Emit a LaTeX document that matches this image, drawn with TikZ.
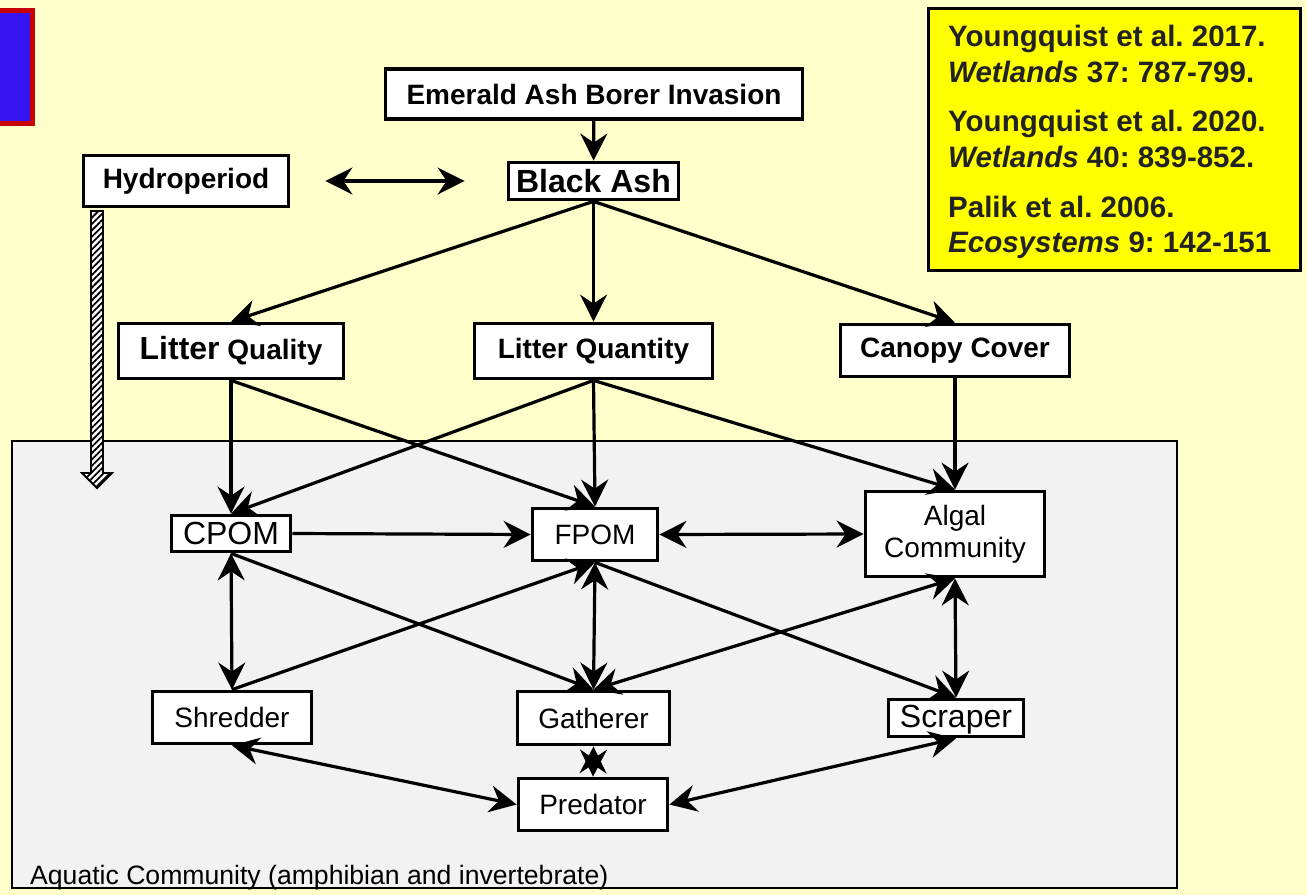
\documentclass[tikz,border=0pt]{standalone}
\usepackage{fontspec}
\setmainfont{Liberation Sans}
\usetikzlibrary{arrows.meta,patterns.meta}
\definecolor{bgyellow}{HTML}{FFFFCC}
\definecolor{aqgray}{HTML}{F2F2F2}
\definecolor{refyellow}{HTML}{FFFF00}
\definecolor{ablue}{HTML}{3814F0}
\definecolor{ared}{HTML}{C80000}
\definecolor{reftext}{HTML}{222222}
\frenchspacing
\tikzset{
  mytip/.tip={Stealth[length=27pt,width=27pt,inset=9pt]},
  box/.style={draw, line width=3.8pt, fill=white, inner sep=0pt, font=\fontsize{28}{32}\selectfont},
  bbox/.style={box, font=\bfseries\fontsize{28}{32}\selectfont},
  conn/.style={line width=3.2pt, -mytip},
  dconn/.style={line width=3.2pt, mytip-mytip},
  reftxt/.style={anchor=base west, inner sep=0pt, text=reftext, font=\bfseries\fontsize{29.5}{34}\selectfont},
}
\begin{document}
\begin{tikzpicture}[x=1pt,y=-1pt]
\useasboundingbox (0,0) rectangle (1307,895);
\fill[bgyellow] (0,0) rectangle (1307,895);
% blue box top-left
\draw[ared, fill=ablue, line width=5pt] (-20,10) rectangle (32,123);
% aquatic community region
\node[draw, line width=1.8pt, fill=aqgray, minimum width=1165pt, minimum height=447pt, inner sep=0pt, anchor=north west] (aq) at (11,440) {};
\node[anchor=base west, inner sep=0pt, font=\fontsize{26.6}{30}\selectfont] (aqlabel) at (30,884) {Aquatic Community (amphibian and invertebrate)};
% hatched block arrow from Hydroperiod
\draw[line width=1.8pt, preaction={fill=white}, pattern={Lines[angle=45,distance=4.5pt,line width=1.8pt]}]
  (91,211) -- (103,211) -- (103,473) -- (112,473) -- (97,488) -- (82,473) -- (91,473) -- cycle;
% reference box
\node[draw, line width=3.5pt, fill=refyellow, minimum width=372pt, minimum height=262pt, inner sep=0pt] (refbox) at (1114.5,139.5) {};
\node[reftxt] (ref1) at (948,46) {Youngquist et al. 2017.};
\node[reftxt] (ref2) at (948,82) {\textit{Wetlands} 37: 787-799.};
\node[reftxt] (ref3) at (948,131) {Youngquist et al. 2020.};
\node[reftxt] (ref4) at (948,167) {\textit{Wetlands} 40: 839-852.};
\node[reftxt] (ref5) at (948,217) {Palik et al. 2006.};
\node[reftxt] (ref6) at (948,252) {\textit{Ecosystems} 9: 142-151};
% nodes
\node[bbox, minimum width=417pt, minimum height=50pt] (eab) at (594,94) {Emerald Ash Borer Invasion};
\node[bbox, font=\bfseries\fontsize{32}{36}\selectfont, minimum width=170pt, minimum height=37pt] (ba) at (593.5,181) {Black Ash};
\node[bbox, minimum width=205pt, minimum height=51pt] (hydro) at (186,181) {Hydroperiod};
\node[bbox, minimum width=225pt, minimum height=55pt] (lqual) at (231,351) {{\fontsize{32}{36}\selectfont Litter} Quality};
\node[bbox, minimum width=238pt, minimum height=55pt] (lquant) at (593.5,351) {Litter Quantity};
\node[bbox, minimum width=229pt, minimum height=52pt] (canopy) at (955,350.5) {Canopy Cover};
\node[box, font=\fontsize{32}{36}\selectfont, minimum width=119pt, minimum height=36pt] (cpom) at (231,533.5) {CPOM};
\node[box, minimum width=125pt, minimum height=52pt] (fpom) at (595,534.5) {FPOM};
\node[box, minimum width=179pt, minimum height=85pt, align=center] (algal) at (955,534) {Algal\\Community};
\node[box, minimum width=159pt, minimum height=52pt] (shred) at (232,717.5) {Shredder};
\node[box, minimum width=152pt, minimum height=53pt] (gath) at (593.5,718) {Gatherer};
\node[box, font=\fontsize{32}{36}\selectfont, minimum width=135pt, minimum height=37pt, text depth=3pt] (scrap) at (956,718) {Scraper};
\node[box, minimum width=149pt, minimum height=52pt] (pred) at (593,804.5) {Predator};
% connectors
\draw[conn] (eab) -- (ba);
\draw[dconn] ([xshift=35pt]hydro.east) -- ([xshift=-42pt]ba.west);
\draw[conn] (ba.south) -- (lqual.north);
\draw[conn] (ba.south) -- (lquant.north);
\draw[conn] (ba.south) -- (canopy.north);
\draw[conn] (lqual.south) -- (cpom.north);
\draw[conn] (lqual.south) -- (fpom.north);
\draw[conn] (lquant.south) -- (cpom.north);
\draw[conn] (lquant.south) -- (fpom.north);
\draw[conn] (lquant.south) -- (algal.north);
\draw[conn] (canopy.south) -- (algal.north);
\draw[conn] (cpom.east) -- (fpom.west);
\draw[dconn] (fpom.east) -- (algal.west);
\draw[dconn] (cpom.south) -- (shred.north);
\draw[conn] (cpom.south) -- (gath.north);
\draw[conn] (shred.north) -- (fpom.south);
\draw[dconn] (fpom.south) -- (gath.north);
\draw[conn] (fpom.south) -- (scrap.north);
\draw[dconn] (gath.north) -- (algal.south);
\draw[dconn] (algal.south) -- (scrap.north);
\draw[dconn] (shred.south) -- (pred.west);
\draw[dconn] (pred.east) -- (scrap.south);
\draw[dconn] (gath.south) -- (pred.north);
\end{tikzpicture}
\end{document}
